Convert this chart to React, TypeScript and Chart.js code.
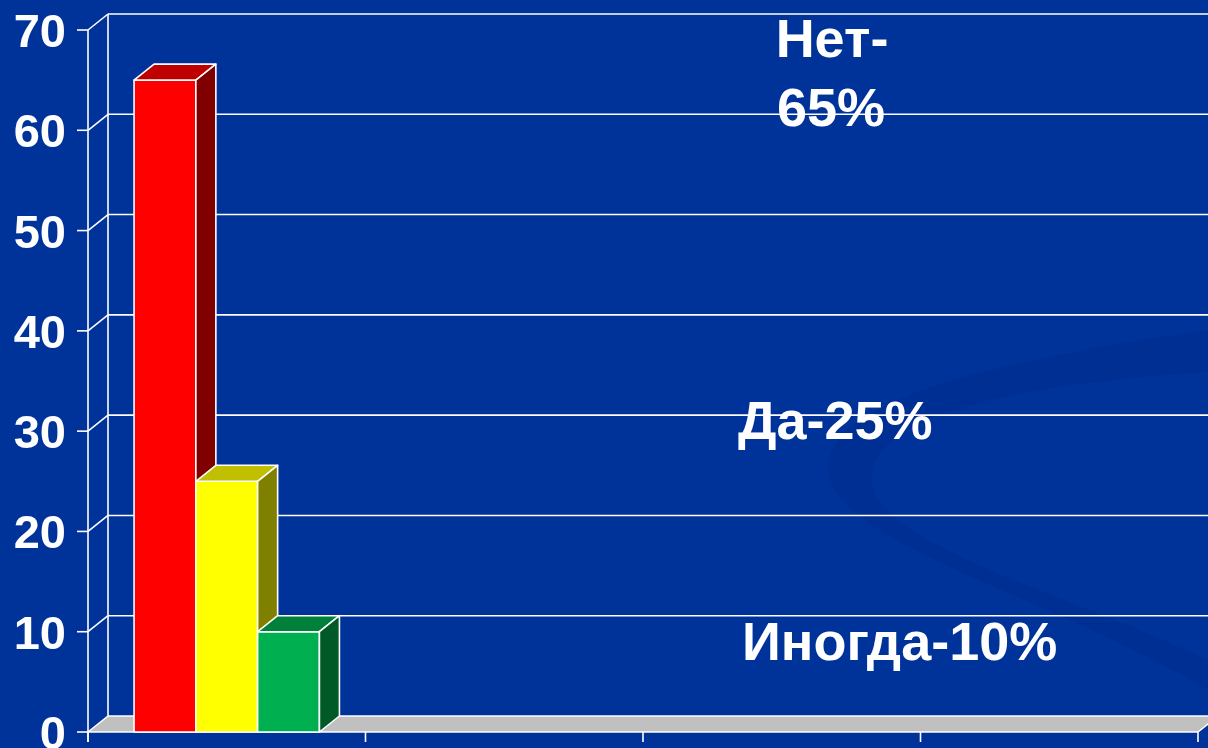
import React, { useEffect, useRef } from 'react';
import { Chart, registerables } from 'chart.js';

Chart.register(...registerables);

// ---- data ----
const categories = ['', '', '', ''];
const seriesNames = ['Нет', 'Да', 'Иногда'];
const netValues = [65, null, null, null];
const daValues = [25, null, null, null];
const inogdaValues = [10, null, null, null];
const yTickValues = [0, 10, 20, 30, 40, 50, 60, 70];
const annotationNet = ['Нет-', '65%'];
const annotationDa = ['Да-25%'];
const annotationInogda = ['Иногда-10%'];

// ---- styles ----
const frontColors = ['#FF0000', '#FFFF00', '#00B050'];
const topColors = ['#BF0000', '#C0C000', '#00803A'];
const sideColors = ['#800000', '#808000', '#005A28'];
const BG = '#003399';
const DX = 20;
const DY = -16;
const FONT = "'Liberation Sans', Arial, sans-serif";

const threeDPlugin = {
  id: 'threeD',
  beforeDraw(chart: any) {
    const ctx = chart.ctx;
    const { width, height } = chart;
    ctx.save();
    ctx.fillStyle = BG;
    ctx.fillRect(0, 0, width, height);
    // subtle swoosh
    ctx.fillStyle = 'rgba(0, 30, 120, 0.16)';
    ctx.beginPath();
    ctx.moveTo(1208, 330);
    ctx.bezierCurveTo(1000, 360, 820, 400, 828, 472);
    ctx.bezierCurveTo(838, 545, 1050, 595, 1208, 690);
    ctx.lineTo(1208, 660);
    ctx.bezierCurveTo(1060, 590, 880, 545, 872, 482);
    ctx.bezierCurveTo(866, 420, 1000, 385, 1208, 372);
    ctx.closePath();
    ctx.fill();
    ctx.restore();
  },
  beforeDatasetsDraw(chart: any) {
    const ctx = chart.ctx;
    const y = chart.scales.y;
    const x = chart.scales.x;
    const area = chart.chartArea;
    const left = area.left;
    const right = area.right;
    const w = chart.width;
    ctx.save();
    ctx.lineWidth = 1.6;
    ctx.strokeStyle = '#FFFFFF';

    const y0 = y.getPixelForValue(0);
    // floor
    ctx.fillStyle = '#C0C0C0';
    ctx.beginPath();
    ctx.moveTo(left, y0);
    ctx.lineTo(right, y0);
    ctx.lineTo(right + DX, y0 + DY);
    ctx.lineTo(left + DX, y0 + DY);
    ctx.closePath();
    ctx.fill();
    ctx.beginPath();
    ctx.moveTo(right, y0);
    ctx.lineTo(right + DX, y0 + DY);
    ctx.stroke();

    // back wall gridlines + diagonals + ticks
    yTickValues.forEach((v) => {
      const py = y.getPixelForValue(v);
      ctx.beginPath();
      ctx.moveTo(left + DX, py + DY);
      ctx.lineTo(w, py + DY);
      ctx.stroke();
      ctx.beginPath();
      ctx.moveTo(left, py);
      ctx.lineTo(left + DX, py + DY);
      ctx.stroke();
      ctx.beginPath();
      ctx.moveTo(left - 11, py);
      ctx.lineTo(left, py);
      ctx.stroke();
    });
    const yTop = y.getPixelForValue(70);
    // back wall vertical
    ctx.beginPath();
    ctx.moveTo(left + DX, yTop + DY);
    ctx.lineTo(left + DX, y0 + DY);
    ctx.stroke();
    // front y axis
    ctx.beginPath();
    ctx.moveTo(left, yTop);
    ctx.lineTo(left, y0 + 10);
    ctx.stroke();
    // front x axis
    ctx.beginPath();
    ctx.moveTo(left, y0);
    ctx.lineTo(right, y0);
    ctx.stroke();
    // x ticks at category boundaries
    const half = (x.getPixelForValue(1) - x.getPixelForValue(0)) / 2;
    for (let i = 0; i <= categories.length; i++) {
      const px = i < categories.length ? x.getPixelForValue(i) - half : x.getPixelForValue(categories.length - 1) + half;
      ctx.beginPath();
      ctx.moveTo(px, y0);
      ctx.lineTo(px, y0 + 10);
      ctx.stroke();
    }

    // y labels
    ctx.fillStyle = '#FFFFFF';
    ctx.font = `bold 47px ${FONT}`;
    ctx.textAlign = 'right';
    ctx.textBaseline = 'alphabetic';
    yTickValues.forEach((v) => {
      const py = y.getPixelForValue(v);
      ctx.fillText(String(v), 66, py + 17);
    });
    ctx.restore();
  },
  afterDatasetsDraw(chart: any) {
    const ctx = chart.ctx;
    ctx.save();
    ctx.lineWidth = 1.6;
    ctx.strokeStyle = '#FFFFFF';
    ctx.lineJoin = 'round';
    chart.data.datasets.forEach((ds: any, di: number) => {
      const meta = chart.getDatasetMeta(di);
      meta.data.forEach((el: any, i: number) => {
        const val = ds.data[i];
        if (val == null) return;
        const p = el.getProps(['x', 'y', 'width', 'base'], true);
        const l = p.x - p.width / 2;
        const r = p.x + p.width / 2;
        const t = p.y;
        const b = p.base;
        // front
        ctx.fillStyle = frontColors[di];
        ctx.beginPath();
        ctx.rect(l, t, r - l, b - t);
        ctx.fill();
        ctx.stroke();
        // top
        ctx.fillStyle = topColors[di];
        ctx.beginPath();
        ctx.moveTo(l, t);
        ctx.lineTo(l + DX, t + DY);
        ctx.lineTo(r + DX, t + DY);
        ctx.lineTo(r, t);
        ctx.closePath();
        ctx.fill();
        ctx.stroke();
        // side
        ctx.fillStyle = sideColors[di];
        ctx.beginPath();
        ctx.moveTo(r, t);
        ctx.lineTo(r + DX, t + DY);
        ctx.lineTo(r + DX, b + DY);
        ctx.lineTo(r, b);
        ctx.closePath();
        ctx.fill();
        ctx.stroke();
      });
    });

    // annotations
    ctx.fillStyle = '#FFFFFF';
    ctx.font = `bold 54px ${FONT}`;
    ctx.textBaseline = 'alphabetic';
    ctx.textAlign = 'center';
    ctx.fillText(annotationNet[0], 832, 57);
    ctx.fillText(annotationNet[1], 831, 126);
    ctx.textAlign = 'left';
    ctx.fillText(annotationDa[0], 738, 439);
    ctx.fillText(annotationInogda[0], 742, 660);
    ctx.restore();
  },
};

export default function App() {
  const canvasRef = useRef<HTMLCanvasElement | null>(null);

  useEffect(() => {
    const canvas = canvasRef.current;
    if (!canvas) return;
    const seriesData = [netValues, daValues, inogdaValues];
    const chart = new Chart(canvas, {
      type: 'bar',
      data: {
        labels: categories,
        datasets: seriesNames.map((name, i) => ({
          label: name,
          data: seriesData[i],
          backgroundColor: 'rgba(0,0,0,0)',
          borderWidth: 0,
          categoryPercentage: 0.668,
          barPercentage: 1,
        })),
      },
      options: {
        animation: false,
        responsive: false,
        maintainAspectRatio: false,
        devicePixelRatio: 1,
        layout: { padding: { left: 88, right: 10, top: 30, bottom: 16 } },
        plugins: {
          legend: { display: false },
          tooltip: { enabled: false },
        },
        scales: {
          x: { display: false, offset: true },
          y: { display: false, min: 0, max: 70, ticks: { stepSize: 10 } },
        },
      },
      plugins: [threeDPlugin],
    });
    return () => chart.destroy();
  }, []);

  return (
    <div style={{ position: 'fixed', left: 0, top: 0, width: 1208, height: 748, background: BG }}>
      <canvas ref={canvasRef} width={1208} height={748} style={{ display: 'block' }} />
    </div>
  );
}
